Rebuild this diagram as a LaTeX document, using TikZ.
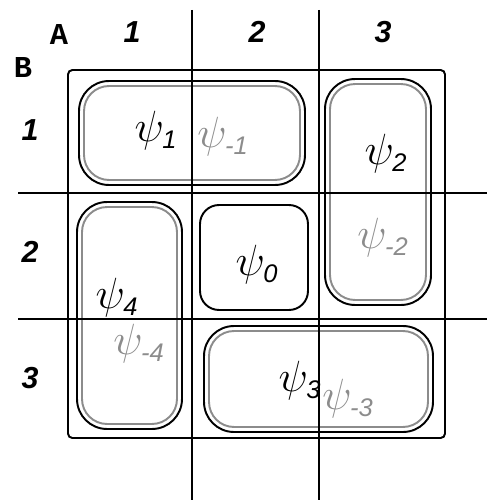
\documentclass[tikz,border=0pt]{standalone}
\usepackage{amsmath}
\usepackage{fontspec}
\setsansfont{Liberation Sans}
\setmonofont{Liberation Mono}
\usetikzlibrary{positioning}
\tikzset{
  gridline/.style={line width=1.1pt},
  frame/.style={draw, line width=1.1pt, rounded corners=2.5pt},
  outbox/.style={draw, rectangle, line width=1.1pt, rounded corners=0.6cm, inner sep=0pt},
  inbox/.style={draw=black!45, rectangle, line width=1.1pt, rounded corners=0.5cm, inner sep=0pt},
  zerobox/.style={draw, rectangle, line width=1.1pt, rounded corners=0.38cm, inner sep=0pt},
  idx/.style={font=\sffamily\bfseries\itshape\LARGE, inner sep=0pt},
  hdr/.style={font=\ttfamily\bfseries\LARGE, inner sep=0pt},
  psi/.style={font=\Huge, inner sep=0pt},
  gpsi/.style={psi, text=black!45},
}
\newcommand{\wave}[1]{$\psi_{\text{\fontsize{14.5}{14.5}\selectfont\sffamily\itshape #1}}$}

\begin{document}
\begin{tikzpicture}[x=0.02cm, y=-0.02cm]
\useasboundingbox (0,0) rectangle (487,500);
% outer frame
\draw[frame] (68,70) rectangle (445,438);
% pairs of states
\node[outbox, minimum width=4.52cm, minimum height=2.08cm] (b1) at (192,133) {};
\node[inbox, minimum width=4.32cm, minimum height=1.88cm] (g1) at (b1.center) {};
\node[outbox, minimum width=2.12cm, minimum height=4.52cm] (b2) at (378,192) {};
\node[inbox, minimum width=1.92cm, minimum height=4.32cm] (g2) at (b2.center) {};
\node[outbox, minimum width=2.10cm, minimum height=4.54cm] (b4) at (129.5,315.5) {};
\node[inbox, minimum width=1.90cm, minimum height=4.34cm] (g4) at (b4.center) {};
\node[outbox, minimum width=4.58cm, minimum height=2.12cm] (b3) at (318.5,379) {};
\node[inbox, minimum width=4.38cm, minimum height=1.92cm] (g3) at (b3.center) {};
\node[zerobox, minimum width=2.16cm, minimum height=2.10cm] (b0) at (254,257.5) {};
% grid
\draw[gridline] (192,10) -- (192,500);
\draw[gridline] (319,10) -- (319,500);
\draw[gridline] (18,193) -- (487,193);
\draw[gridline] (18,319) -- (487,319);
% headers
\node[hdr] (A) at (59,35) {A};
\node[hdr] (B) at (23,68) {B};
\node[idx] (c1) at (132,32) {1};
\node[idx] (c2) at (257,32) {2};
\node[idx] (c3) at (383,32) {3};
\node[idx] (r1) at (30,130) {1};
\node[idx] (r2) at (30,252) {2};
\node[idx] (r3) at (30,378) {3};
% states
\node[psi] (p1) at (156,131) {\wave{1}};
\node[gpsi] (m1) at (223,137) {\wave{-1}};
\node[psi] (p2) at (386,154) {\wave{2}};
\node[gpsi] (m2) at (383,238) {\wave{-2}};
\node[psi] (p0) at (257,265) {\wave{0}};
\node[psi] (p4) at (117,298) {\wave{4}};
\node[gpsi] (m4) at (139,344) {\wave{-4}};
\node[psi] (p3) at (300,381) {\wave{3}};
\node[gpsi] (m3) at (348,399) {\wave{-3}};
\end{tikzpicture}
\end{document}
